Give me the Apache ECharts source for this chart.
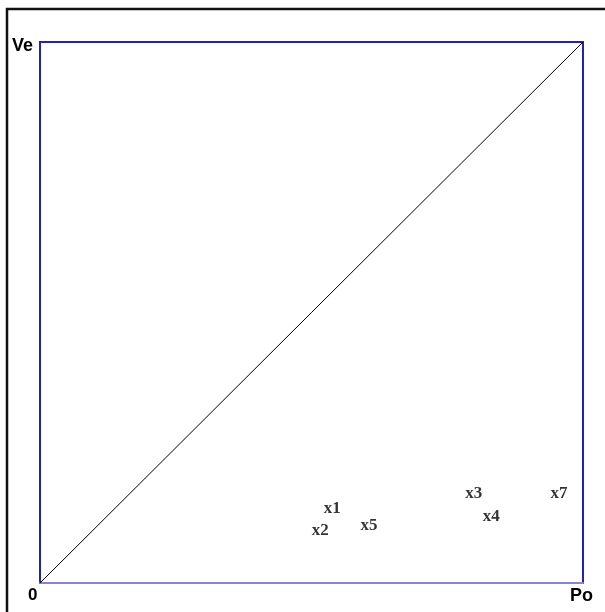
<!DOCTYPE html>
<html>
<head>
<meta charset="utf-8">
<script src="https://cdn.jsdelivr.net/npm/echarts@6/dist/echarts.min.js"></script>
<style>
  html, body { margin: 0; padding: 0; background: #fff; }
  #chart { width: 605px; height: 612px; }
</style>
</head>
<body>
<div id="chart"></div>
<script>
// points on the Po (x) / Ve (y) plane, 0..100
const pointNames = ['x1', 'x2', 'x3', 'x4', 'x5', 'x7']
const poValues = [53.8, 51.6, 79.9, 83.1, 60.6, 95.6]
const veValues = [13.7, 9.6, 16.6, 12.2, 10.7, 16.6]
// diagonal from origin to the far corner
const diagX = [0, 100]
const diagY = [0, 100]

const chart = echarts.init(document.getElementById('chart'))

const labelFont = 'Arial, "Liberation Sans", sans-serif'
const pointFont = '"Times New Roman", "Liberation Serif", serif'

const points = pointNames.map((n, i) => ({ name: n, value: [poValues[i], veValues[i]] }))
const diag = diagX.map((x, i) => [x, diagY[i]])

chart.setOption({
  animation: false,
  backgroundColor: '#fff',
  grid: {
    left: 40,
    top: 42,
    width: 543,
    height: 541,
    show: true,
    borderColor: '#2222b8',
    borderWidth: 2,
    backgroundColor: 'transparent'
  },
  xAxis: {
    type: 'value',
    min: 0,
    max: 100,
    axisLine: { show: true, lineStyle: { color: '#8585d8', width: 2 } },
    axisTick: { show: false },
    axisLabel: { show: false },
    splitLine: { show: false }
  },
  yAxis: {
    type: 'value',
    min: 0,
    max: 100,
    axisLine: { show: true, lineStyle: { color: '#2222b8', width: 2 } },
    axisTick: { show: false },
    axisLabel: { show: false },
    splitLine: { show: false }
  },
  graphic: [
    {
      type: 'rect',
      shape: { x: 7, y: 9, width: 800, height: 800 },
      style: { fill: 'none', stroke: '#111', lineWidth: 2.5 },
      silent: true
    },
    {
      type: 'text', left: 12, top: 37,
      style: { text: 'Ve', font: 'bold 18px ' + labelFont, fill: '#000' }
    },
    {
      type: 'text', left: 28, top: 587,
      style: { text: '0', font: 'bold 17px ' + labelFont, fill: '#000' }
    },
    {
      type: 'text', left: 570, top: 587,
      style: { text: 'Po', font: 'bold 18px ' + labelFont, fill: '#000' }
    }
  ],
  series: [
    {
      type: 'line',
      data: diag,
      symbol: 'none',
      lineStyle: { color: '#000', width: 1 },
      silent: true
    },
    {
      type: 'scatter',
      data: points,
      symbolSize: 0,
      label: {
        show: true,
        position: 'inside',
        formatter: p => p.name,
        color: '#000',
        fontFamily: pointFont,
        fontWeight: 'bold',
        fontSize: 17
      },
      silent: true
    }
  ]
})
</script>
</body>
</html>
